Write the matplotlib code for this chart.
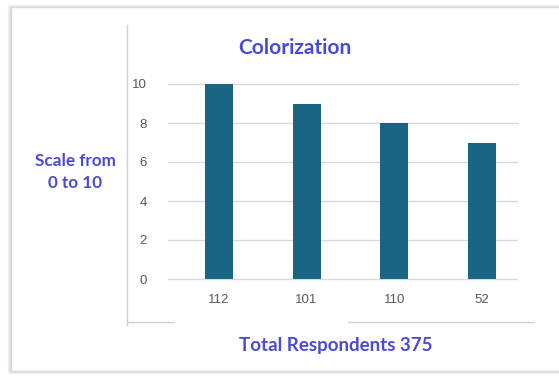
import matplotlib
matplotlib.use("Agg")
import matplotlib.pyplot as plt
from matplotlib.patches import Rectangle

categories = ["112", "101", "110", "52"]
scores = [10, 9, 8, 7]
yticks = [0, 2, 4, 6, 8, 10]

W, H = 559, 378
fig = plt.figure(figsize=(W / 100, H / 100), dpi=100)
fig.patch.set_facecolor("white")

# card frame with soft shadow on the left
bg = fig.add_axes([0, 0, 1, 1])
bg.set_xlim(0, W)
bg.set_ylim(H, 0)
bg.axis("off")
for i, a in enumerate([0.10, 0.18, 0.28]):
    bg.add_patch(Rectangle((8 + i, 5 + i), 560, 368 - 2 * i, fill=False,
                           edgecolor="#999999", alpha=a, lw=1))
bg.add_patch(Rectangle((11, 7), 560, 364, facecolor="white", edgecolor="#d8d8d8", lw=1))
bg.plot([127, 127], [25, 325], color="#d0d0d0", lw=1)
bg.plot([127, 173], [322, 322], color="#d0d0d0", lw=1)
bg.plot([348, 533], [322, 322], color="#d0d0d0", lw=1)

blue = "#4a4ad6"
bg.text(295, 48, "Colorization", color=blue, fontsize=15, fontweight="bold",
        family="Lato", ha="center", va="center")
bg.text(75, 172, "Scale from\n0 to 10", color=blue, fontsize=12.3, fontweight="bold",
        family="Lato", ha="center", va="center", linespacing=1.45)
bg.text(336, 345, "Total Respondents 375", color=blue, fontsize=13.5, fontweight="bold",
        family="Lato", ha="center", va="center")

ax = fig.add_axes([168 / W, 1 - 279 / H, 349 / W, 195 / H])
ax.patch.set_alpha(0)
x = range(len(categories))
ax.bar(x, scores, width=0.32, color="#1b6584", zorder=3)
for v in yticks:
    ax.axhline(v, color="#d9d9d9", lw=1, zorder=1, clip_on=False)
ax.set_xlim(-0.58, 3.4)
ax.set_ylim(0, 10)
ax.set_yticks(yticks)
ax.set_xticks(list(x))
ax.set_xticklabels(categories, family="Liberation Sans")
ax.set_yticklabels([str(v) for v in yticks], family="Liberation Sans")
for s in ax.spines.values():
    s.set_visible(False)
ax.tick_params(length=0, colors="#595959", labelsize=9.5)
ax.tick_params(axis="y", pad=15)
ax.tick_params(axis="x", pad=11)

fig.savefig("out.png", dpi=100)
